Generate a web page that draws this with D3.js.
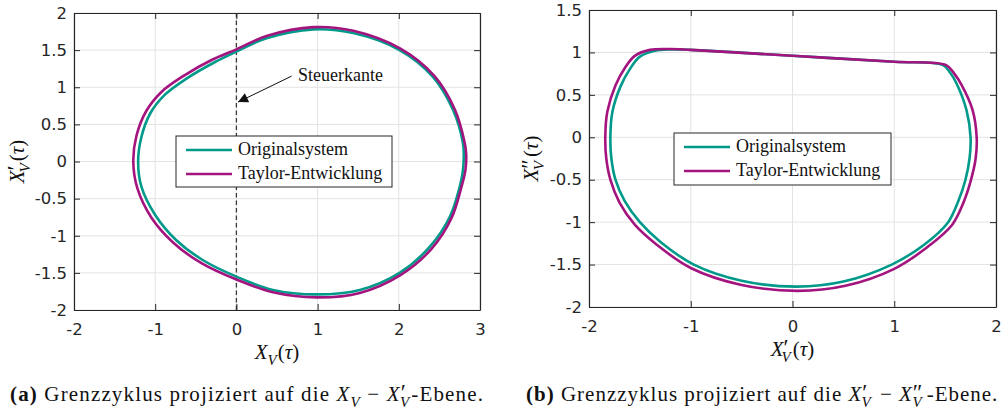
<!DOCTYPE html>
<html>
<head>
<meta charset="utf-8">
<script src="https://cdn.jsdelivr.net/npm/d3@7"></script>
<style>
body { margin:0; background:#fff; }
svg { display:block; }
</style>
</head>
<body>
<script>
// series names for the legends
var seriesNames = ["Originalsystem", "Taylor-Entwicklung"]
var seriesColors = ["#00998a", "#a3147f"]

// (a) X_V - X'_V plane
var origA = [[-1.21,0.0],[-1.17,0.33],[-1.06,0.65],[-0.88,0.90],[-0.61,1.12],[-0.28,1.33],[0,1.48],[0.37,1.66],[0.95,1.78],[1.44,1.73],[2.01,1.50],[2.42,1.14],[2.67,0.69],[2.79,0.25],[2.80,0.10],[2.79,-0.12],[2.75,-0.34],[2.63,-0.74],[2.38,-1.15],[2.01,-1.50],[1.52,-1.73],[0.99,-1.79],[0.45,-1.73],[0,-1.55],[-0.41,-1.33],[-0.74,-1.06],[-1.0,-0.72],[-1.17,-0.34]]
var taylorA = [[-1.27,0.0],[-1.23,0.35],[-1.11,0.68],[-0.92,0.94],[-0.64,1.16],[-0.30,1.37],[0,1.51],[0.37,1.69],[0.95,1.81],[1.44,1.76],[2.02,1.52],[2.44,1.15],[2.69,0.70],[2.81,0.26],[2.83,0.10],[2.82,-0.12],[2.77,-0.35],[2.65,-0.76],[2.40,-1.18],[2.02,-1.53],[1.52,-1.77],[0.99,-1.83],[0.45,-1.76],[0,-1.59],[-0.43,-1.37],[-0.78,-1.09],[-1.05,-0.75],[-1.22,-0.36]]
var ticksAX = [-2,-1,0,1,2,3]
var ticksAY = [-2,-1.5,-1,-0.5,0,0.5,1,1.5,2]
// Steuerkante annotation: tip, tail, text (data coords)
var edgeX = 0
var arrowTip = [0.02,0.80]
var arrowTail = [0.68,1.15]
var edgeText = [0.76,1.09]

// (b) X'_V - X''_V plane
var origB = [[-1.50,0.95],[-1.35,1.02],[-1.2,1.035],[-1.0,1.03],[0,0.96],[1.0,0.89],[1.48,0.85],[1.55,0.76],[1.61,0.64],[1.71,0.32],[1.75,0.0],[1.74,-0.25],[1.70,-0.50],[1.63,-0.75],[1.53,-1.0],[1.30,-1.26],[0.975,-1.50],[0.50,-1.70],[0.04,-1.76],[-0.50,-1.69],[-0.97,-1.50],[-1.30,-1.23],[-1.50,-1.0],[-1.65,-0.75],[-1.74,-0.50],[-1.78,-0.25],[-1.79,0.0],[-1.77,0.30],[-1.69,0.60],[-1.60,0.80]]
var taylorB = [[-1.55,0.96],[-1.40,1.03],[-1.2,1.04],[-1.0,1.03],[0,0.96],[1.0,0.89],[1.51,0.85],[1.59,0.75],[1.66,0.62],[1.77,0.32],[1.81,0.0],[1.80,-0.25],[1.75,-0.52],[1.68,-0.77],[1.57,-1.03],[1.33,-1.29],[1.0,-1.55],[0.52,-1.75],[0.05,-1.81],[-0.50,-1.74],[-1.0,-1.54],[-1.34,-1.26],[-1.55,-1.03],[-1.70,-0.77],[-1.79,-0.50],[-1.83,-0.25],[-1.84,0.0],[-1.82,0.30],[-1.74,0.61],[-1.64,0.83]]
var ticksBX = [-2,-1,0,1,2]
var ticksBY = [-2,-1.5,-1,-0.5,0,0.5,1,1.5]

var w = 1006, h = 413
var axis_color = "#262626"
var tick_font = "'DejaVu Sans', sans-serif"
var serif = "'Liberation Serif', 'DejaVu Serif', serif"

var svg = d3.select("body").append("svg")
.attr("width", w)
.attr("height", h)

// math-ish label made of tspans
function mathText(sel, parts, size)
{
var t = sel.append("text")
.style("font-family", serif)
.style("font-size", size + "px")
.attr("fill", "#111")
var shift = 0
parts.forEach(function(p)
{
var target = p.pr ? -0.06*size : (p.sub ? 0.3*size : 0)
var ts = t.append("tspan").text(p.t)
.attr("dy", target - shift)
if (p.dx) ts.attr("dx", p.dx)
if (p.it) ts.style("font-style", "italic")
if (p.b) ts.style("font-weight", "bold")
if (p.sub) ts.style("font-size", 0.72*size + "px")
if (p.pr) ts.style("font-size", 1.1*size + "px")
shift = target
})
return t
}

function panel(cfg)
{
var x = d3.scaleLinear().domain(cfg.xd).range([cfg.x0, cfg.x1])
var y = d3.scaleLinear().domain(cfg.yd).range([cfg.y1, cfg.y0])
var g = svg.append("g")

// grid
g.selectAll(".gx").data(cfg.xt).enter().append("line")
.attr("x1", function(d){ return x(d) }).attr("x2", function(d){ return x(d) })
.attr("y1", cfg.y0).attr("y2", cfg.y1)
.attr("stroke", "#e3e3e3").attr("stroke-width", 1)
g.selectAll(".gy").data(cfg.yt).enter().append("line")
.attr("y1", function(d){ return y(d) }).attr("y2", function(d){ return y(d) })
.attr("x1", cfg.x0).attr("x2", cfg.x1)
.attr("stroke", "#e3e3e3").attr("stroke-width", 1)

var clipId = "clip" + cfg.id
svg.append("clipPath").attr("id", clipId).append("rect")
.attr("x", cfg.x0).attr("y", cfg.y0)
.attr("width", cfg.x1 - cfg.x0).attr("height", cfg.y1 - cfg.y0)

if (cfg.dashX !== undefined)
{
g.append("line")
.attr("x1", x(cfg.dashX)).attr("x2", x(cfg.dashX))
.attr("y1", cfg.y0).attr("y2", cfg.y1)
.attr("stroke", "#3a3a3a").attr("stroke-width", 1.3)
.attr("stroke-dasharray", "4.5,3")
}

var line = d3.line()
.x(function(d){ return x(d[0]) })
.y(function(d){ return y(d[1]) })
.curve(d3.curveCatmullRomClosed.alpha(0.5))
var curves = g.append("g").attr("clip-path", "url(#" + clipId + ")")
cfg.series.forEach(function(s, i)
{
curves.append("path")
.attr("d", line(s))
.attr("fill", "none")
.attr("stroke", seriesColors[i])
.attr("stroke-width", 2.6)
.attr("stroke-linejoin", "round")
})

// box + inward ticks on all sides
var fmt = function(d){ return String(d) }
var axes = [
d3.axisBottom(x).tickValues(cfg.xt).tickSizeInner(-6).tickSizeOuter(0).tickFormat(fmt),
d3.axisTop(x).tickValues(cfg.xt).tickSizeInner(-6).tickSizeOuter(0).tickFormat(""),
d3.axisLeft(y).tickValues(cfg.yt).tickSizeInner(-6).tickSizeOuter(0).tickFormat(fmt),
d3.axisRight(y).tickValues(cfg.yt).tickSizeInner(-6).tickSizeOuter(0).tickFormat("")
]
var pos = ["translate(0," + cfg.y1 + ")", "translate(0," + cfg.y0 + ")", "translate(" + cfg.x0 + ",0)", "translate(" + cfg.x1 + ",0)"]
axes.forEach(function(a, i)
{
var ag = g.append("g").attr("transform", pos[i]).call(a)
ag.select(".domain").attr("stroke", axis_color).attr("stroke-width", 1.2)
ag.selectAll(".tick line").attr("stroke", axis_color).attr("stroke-width", 1)
ag.selectAll(".tick text")
.style("font-family", tick_font).style("font-size", "16.5px")
.attr("fill", axis_color)
if (i == 0) ag.selectAll(".tick text").attr("y", 13)
if (i == 2) ag.selectAll(".tick text").attr("x", -7)
})

// legend
var L = cfg.legend
var lg = g.append("g")
lg.append("rect").attr("x", L.x).attr("y", L.y).attr("width", L.w).attr("height", L.h)
.attr("fill", "#fff").attr("stroke", axis_color).attr("stroke-width", 1)
seriesNames.forEach(function(n, i)
{
lg.append("line")
.attr("x1", L.x + 10).attr("x2", L.x + 56)
.attr("y1", L.y + 14 + 24*i).attr("y2", L.y + 14 + 24*i)
.attr("stroke", seriesColors[i]).attr("stroke-width", 2.6)
lg.append("text")
.attr("x", L.x + 62).attr("y", L.y + 19 + 24*i)
.style("font-family", serif).style("font-size", "18px")
.attr("fill", "#111")
.text(n)
})

// axis labels
mathText(g, cfg.xlabel, 21)
.attr("x", (cfg.x0 + cfg.x1)/2).attr("y", cfg.y1 + 49)
.attr("text-anchor", "middle")
mathText(g, cfg.ylabel, 21)
.attr("text-anchor", "middle")
.attr("transform", "translate(" + cfg.ylx + "," + ((cfg.y0 + cfg.y1)/2) + ") rotate(-90)")

// caption
mathText(g, cfg.caption, 21)
.attr("x", cfg.capx).attr("y", 401)
.style("letter-spacing", cfg.capls)

return {x: x, y: y, g: g}
}

var pa = panel({
id: "a", x0: 74, x1: 480, y0: 13, y1: 310,
xd: [-2,3], yd: [-2,2], xt: ticksAX, yt: ticksAY,
series: [origA, taylorA], dashX: edgeX,
legend: {x: 176, y: 136, w: 216, h: 51},
xlabel: [{t:"X", it:true}, {t:"V", it:true, sub:true}, {t:"(", dx:1}, {t:"τ", it:true}, {t:")"}],
ylabel: [{t:"X", it:true}, {t:"′", pr:true}, {t:"V", it:true, sub:true, dx:-7}, {t:"(", dx:2}, {t:"τ", it:true}, {t:")"}],
ylx: 24,
caption: [{t:"(a)", b:true}, {t:" Grenzzyklus projiziert auf die "}, {t:"X", it:true}, {t:"V", it:true, sub:true}, {t:" − "}, {t:"X", it:true}, {t:"′", pr:true}, {t:"V", it:true, sub:true, dx:-7}, {t:"-Ebene.", dx:1}],
capx: 10, capls: "1.15px"
})

// Steuerkante arrow
svg.append("defs").append("marker")
.attr("id", "ahead").attr("viewBox", "0 0 10 10")
.attr("refX", 10).attr("refY", 5)
.attr("markerWidth", 14).attr("markerHeight", 10)
.attr("markerUnits", "userSpaceOnUse")
.attr("orient", "auto")
.append("path").attr("d", "M0,0 L10,5 L0,10 Z").attr("fill", "#111")
pa.g.append("line")
.attr("x1", pa.x(arrowTail[0])).attr("y1", pa.y(arrowTail[1]))
.attr("x2", pa.x(arrowTip[0])).attr("y2", pa.y(arrowTip[1]))
.attr("stroke", "#111").attr("stroke-width", 1)
.attr("marker-end", "url(#ahead)")
pa.g.append("text")
.attr("x", pa.x(edgeText[0])).attr("y", pa.y(edgeText[1]))
.style("font-family", serif).style("font-size", "18px")
.attr("fill", "#111")
.text("Steuerkante")

panel({
id: "b", x0: 589, x1: 996, y0: 10, y1: 307,
xd: [-2,2], yd: [-2,1.5], xt: ticksBX, yt: ticksBY,
series: [origB, taylorB],
legend: {x: 674, y: 133, w: 217, h: 52},
xlabel: [{t:"X", it:true}, {t:"′", pr:true}, {t:"V", it:true, sub:true, dx:-7}, {t:"(", dx:2}, {t:"τ", it:true}, {t:")"}],
ylabel: [{t:"X", it:true}, {t:"″", pr:true}, {t:"V", it:true, sub:true, dx:-11}, {t:"(", dx:4}, {t:"τ", it:true}, {t:")"}],
ylx: 538,
caption: [{t:"(b)", b:true}, {t:" Grenzzyklus projiziert auf die "}, {t:"X", it:true}, {t:"′", pr:true}, {t:"V", it:true, sub:true, dx:-7}, {t:" − ", dx:2}, {t:"X", it:true}, {t:"″", pr:true}, {t:"V", it:true, sub:true, dx:-11}, {t:"-Ebene.", dx:4}],
capx: 526, capls: "1.0px"
})
</script>
</body>
</html>
